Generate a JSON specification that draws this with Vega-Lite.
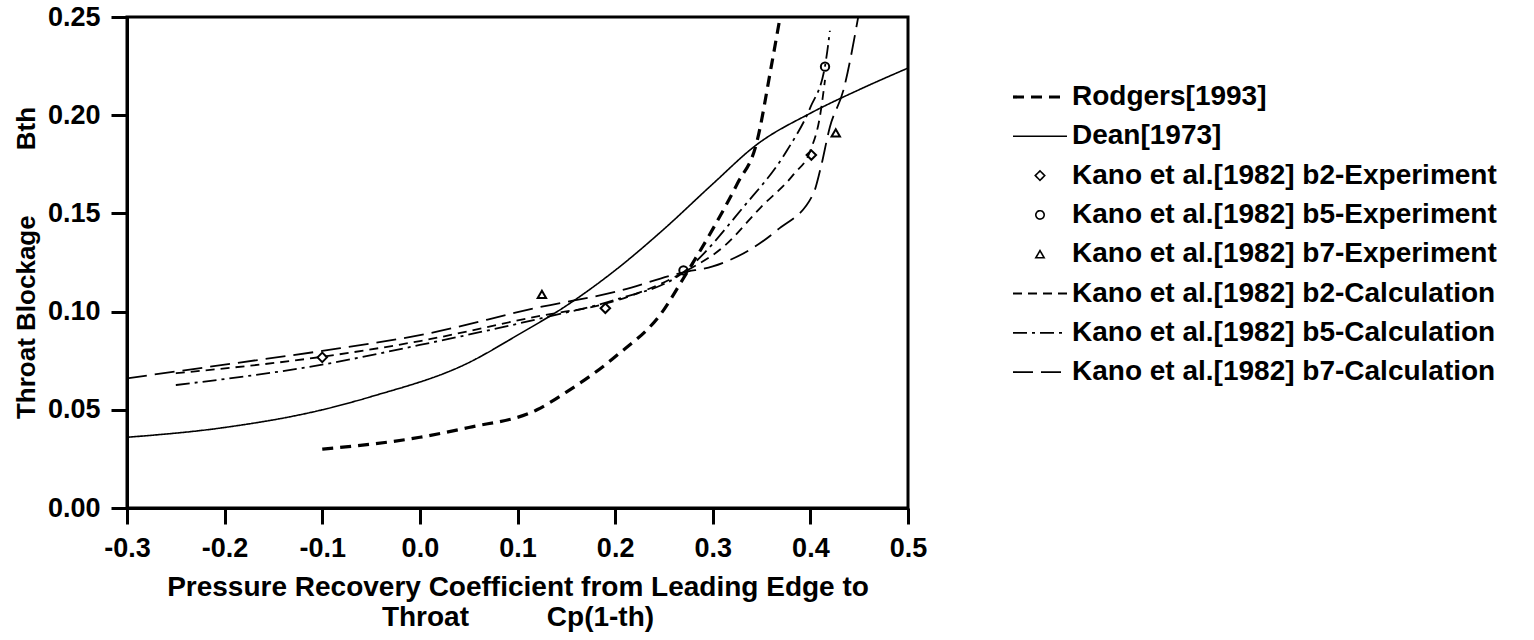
{
  "$schema": "https://vega.github.io/schema/vega-lite/v6.json",
  "width": 781,
  "height": 491,
  "autosize": "none",
  "padding": {"left": 127, "top": 17, "right": 626, "bottom": 132},
  "background": "white",
  "config": {
    "font": "Liberation Sans",
    "view": {"stroke": "black", "strokeWidth": 3},
    "axis": {
      "domainColor": "black", "domainWidth": 3, "tickColor": "black", "tickWidth": 3,
      "grid": false, "labelFont": "Liberation Sans", "labelFontWeight": "bold", "labelFontSize": 27,
      "labelColor": "black", "titleFont": "Liberation Sans", "titleFontWeight": "bold",
      "titleFontSize": 26, "titleColor": "black"
    },
    "legend": {
      "labelFont": "Liberation Sans", "labelFontWeight": "bold", "labelFontSize": 28, "labelColor": "black", "labelLimit": 0
    }
  },
  "datasets": {
    "curves": [
      {"series": "Rodgers[1993]", "cp": -0.1, "b": 0.030},
      {"series": "Rodgers[1993]", "cp": 0.0, "b": 0.036},
      {"series": "Rodgers[1993]", "cp": 0.05, "b": 0.041},
      {"series": "Rodgers[1993]", "cp": 0.12, "b": 0.050},
      {"series": "Rodgers[1993]", "cp": 0.15, "b": 0.059},
      {"series": "Rodgers[1993]", "cp": 0.2, "b": 0.077},
      {"series": "Rodgers[1993]", "cp": 0.25, "b": 0.101},
      {"series": "Rodgers[1993]", "cp": 0.27, "b": 0.117},
      {"series": "Rodgers[1993]", "cp": 0.3, "b": 0.142},
      {"series": "Rodgers[1993]", "cp": 0.325, "b": 0.165},
      {"series": "Rodgers[1993]", "cp": 0.345, "b": 0.186},
      {"series": "Rodgers[1993]", "cp": 0.36, "b": 0.225},
      {"series": "Rodgers[1993]", "cp": 0.369, "b": 0.25},
      {"series": "Dean[1973]", "cp": -0.3, "b": 0.036},
      {"series": "Dean[1973]", "cp": -0.2, "b": 0.041},
      {"series": "Dean[1973]", "cp": -0.1, "b": 0.050},
      {"series": "Dean[1973]", "cp": -0.05, "b": 0.0567},
      {"series": "Dean[1973]", "cp": 0.05, "b": 0.074},
      {"series": "Dean[1973]", "cp": 0.1, "b": 0.088},
      {"series": "Dean[1973]", "cp": 0.15, "b": 0.103},
      {"series": "Dean[1973]", "cp": 0.2, "b": 0.121},
      {"series": "Dean[1973]", "cp": 0.25, "b": 0.142},
      {"series": "Dean[1973]", "cp": 0.3, "b": 0.165},
      {"series": "Dean[1973]", "cp": 0.345, "b": 0.185},
      {"series": "Dean[1973]", "cp": 0.4, "b": 0.201},
      {"series": "Dean[1973]", "cp": 0.45, "b": 0.213},
      {"series": "Dean[1973]", "cp": 0.5, "b": 0.224},
      {"series": "Kano et al.[1982] b2-Calculation", "cp": -0.25, "b": 0.0686},
      {"series": "Kano et al.[1982] b2-Calculation", "cp": -0.1, "b": 0.077},
      {"series": "Kano et al.[1982] b2-Calculation", "cp": 0.0, "b": 0.085},
      {"series": "Kano et al.[1982] b2-Calculation", "cp": 0.125, "b": 0.098},
      {"series": "Kano et al.[1982] b2-Calculation", "cp": 0.19, "b": 0.104},
      {"series": "Kano et al.[1982] b2-Calculation", "cp": 0.27, "b": 0.12},
      {"series": "Kano et al.[1982] b2-Calculation", "cp": 0.311, "b": 0.133},
      {"series": "Kano et al.[1982] b2-Calculation", "cp": 0.349, "b": 0.153},
      {"series": "Kano et al.[1982] b2-Calculation", "cp": 0.383, "b": 0.170},
      {"series": "Kano et al.[1982] b2-Calculation", "cp": 0.4, "b": 0.182},
      {"series": "Kano et al.[1982] b2-Calculation", "cp": 0.41, "b": 0.2},
      {"series": "Kano et al.[1982] b2-Calculation", "cp": 0.415, "b": 0.218},
      {"series": "Kano et al.[1982] b5-Calculation", "cp": -0.25, "b": 0.0626},
      {"series": "Kano et al.[1982] b5-Calculation", "cp": -0.1, "b": 0.073},
      {"series": "Kano et al.[1982] b5-Calculation", "cp": 0.0, "b": 0.083},
      {"series": "Kano et al.[1982] b5-Calculation", "cp": 0.125, "b": 0.0967},
      {"series": "Kano et al.[1982] b5-Calculation", "cp": 0.2, "b": 0.106},
      {"series": "Kano et al.[1982] b5-Calculation", "cp": 0.27, "b": 0.12},
      {"series": "Kano et al.[1982] b5-Calculation", "cp": 0.331, "b": 0.153},
      {"series": "Kano et al.[1982] b5-Calculation", "cp": 0.376, "b": 0.182},
      {"series": "Kano et al.[1982] b5-Calculation", "cp": 0.4, "b": 0.204},
      {"series": "Kano et al.[1982] b5-Calculation", "cp": 0.415, "b": 0.225},
      {"series": "Kano et al.[1982] b5-Calculation", "cp": 0.42, "b": 0.243},
      {"series": "Kano et al.[1982] b7-Calculation", "cp": -0.3, "b": 0.066},
      {"series": "Kano et al.[1982] b7-Calculation", "cp": -0.2, "b": 0.073},
      {"series": "Kano et al.[1982] b7-Calculation", "cp": -0.1, "b": 0.080},
      {"series": "Kano et al.[1982] b7-Calculation", "cp": 0.0, "b": 0.088},
      {"series": "Kano et al.[1982] b7-Calculation", "cp": 0.125, "b": 0.1025},
      {"series": "Kano et al.[1982] b7-Calculation", "cp": 0.2, "b": 0.110},
      {"series": "Kano et al.[1982] b7-Calculation", "cp": 0.27, "b": 0.12},
      {"series": "Kano et al.[1982] b7-Calculation", "cp": 0.3, "b": 0.123},
      {"series": "Kano et al.[1982] b7-Calculation", "cp": 0.366, "b": 0.1415},
      {"series": "Kano et al.[1982] b7-Calculation", "cp": 0.403, "b": 0.160},
      {"series": "Kano et al.[1982] b7-Calculation", "cp": 0.41, "b": 0.172},
      {"series": "Kano et al.[1982] b7-Calculation", "cp": 0.42, "b": 0.194},
      {"series": "Kano et al.[1982] b7-Calculation", "cp": 0.434, "b": 0.213},
      {"series": "Kano et al.[1982] b7-Calculation", "cp": 0.449, "b": 0.25}
    ],
    "points": [
      {"series": "Kano et al.[1982] b2-Experiment", "cp": -0.1, "b": 0.0767},
      {"series": "Kano et al.[1982] b2-Experiment", "cp": 0.19, "b": 0.1017},
      {"series": "Kano et al.[1982] b2-Experiment", "cp": 0.401, "b": 0.1797},
      {"series": "Kano et al.[1982] b5-Experiment", "cp": 0.27, "b": 0.121},
      {"series": "Kano et al.[1982] b5-Experiment", "cp": 0.415, "b": 0.2247},
      {"series": "Kano et al.[1982] b7-Experiment", "cp": 0.125, "b": 0.1088},
      {"series": "Kano et al.[1982] b7-Experiment", "cp": 0.426, "b": 0.191}
    ]
  },
  "layer": [
    {
      "data": {"name": "curves"},
      "mark": {"type": "line", "color": "black", "interpolate": "monotone", "clip": true},
      "encoding": {
        "x": {
          "field": "cp", "type": "quantitative",
          "scale": {"domain": [-0.3, 0.5], "nice": false, "zero": false},
          "axis": {
            "values": [-0.3, -0.2, -0.1, 0.0, 0.1, 0.2, 0.3, 0.4, 0.5], "format": ".1f",
            "labelExpr": "replace(datum.label, '\u2212', '-')",
            "tickSize": 16, "labelPadding": 11, "labelFlush": false,
            "title": ["Pressure Recovery Coefficient from Leading Edge to", "Throat\u00a0\u00a0\u00a0\u00a0\u00a0\u00a0\u00a0\u00a0\u00a0\u00a0Cp(1-th)"],
            "titleFontSize": 28, "titlePadding": 12, "titleLineHeight": 30
          }
        },
        "y": {
          "field": "b", "type": "quantitative",
          "scale": {"domain": [0, 0.25], "nice": false},
          "axis": {
            "values": [0, 0.05, 0.1, 0.15, 0.2, 0.25], "format": ".2f",
            "tickSize": 16, "labelPadding": 11, "labelFlush": false,
            "title": "Throat Blockage\u00a0\u00a0\u00a0\u00a0\u00a0\u00a0\u00a0\u00a0\u00a0Bth",
            "titlePadding": 8
          }
        },
        "detail": {"field": "series"},
        "strokeDash": {
          "field": "series", "type": "nominal",
          "scale": {
            "domain": ["Rodgers[1993]", "Dean[1973]", "Kano et al.[1982] b2-Experiment", "Kano et al.[1982] b5-Experiment", "Kano et al.[1982] b7-Experiment", "Kano et al.[1982] b2-Calculation", "Kano et al.[1982] b5-Calculation", "Kano et al.[1982] b7-Calculation"],
            "range": [[11, 7], [1, 0], [1, 0], [1, 0], [1, 0], [9, 6], [14, 5, 3, 5], [20, 8]]
          },
          "legend": {"title": null, "orient": "none", "legendX": 899, "legendY": 66, "rowPadding": 11.3, "labelOffset": 18, "symbolFillColor": "transparent", "symbolStrokeColor": "black"}
        },
        "strokeWidth": {
          "field": "series", "type": "nominal",
          "scale": {
            "type": "ordinal",
            "domain": ["Rodgers[1993]", "Dean[1973]", "Kano et al.[1982] b2-Experiment", "Kano et al.[1982] b5-Experiment", "Kano et al.[1982] b7-Experiment", "Kano et al.[1982] b2-Calculation", "Kano et al.[1982] b5-Calculation", "Kano et al.[1982] b7-Calculation"],
            "range": [3.2, 1.6, 1.6, 1.6, 1.6, 1.8, 1.8, 1.8]
          }
        }
      }
    },
    {
      "data": {"name": "points"},
      "mark": {"type": "point", "color": "black", "filled": false, "opacity": 1},
      "encoding": {
        "x": {"field": "cp", "type": "quantitative"},
        "y": {"field": "b", "type": "quantitative"},
        "shape": {
          "field": "series", "type": "nominal",
          "scale": {
            "domain": ["Rodgers[1993]", "Dean[1973]", "Kano et al.[1982] b2-Experiment", "Kano et al.[1982] b5-Experiment", "Kano et al.[1982] b7-Experiment", "Kano et al.[1982] b2-Calculation", "Kano et al.[1982] b5-Calculation", "Kano et al.[1982] b7-Calculation"],
            "range": ["M-3,0H3", "M-3,0H3", "diamond", "circle", "triangle-up", "M-3,0H3", "M-3,0H3", "M-3,0H3"]
          }
        },
        "size": {
          "field": "series", "type": "nominal",
          "scale": {
            "type": "ordinal",
            "domain": ["Rodgers[1993]", "Dean[1973]", "Kano et al.[1982] b2-Experiment", "Kano et al.[1982] b5-Experiment", "Kano et al.[1982] b7-Experiment", "Kano et al.[1982] b2-Calculation", "Kano et al.[1982] b5-Calculation", "Kano et al.[1982] b7-Calculation"],
            "range": [324, 324, 90, 70, 70, 324, 324, 324]
          }
        }
      }
    }
  ]
}
